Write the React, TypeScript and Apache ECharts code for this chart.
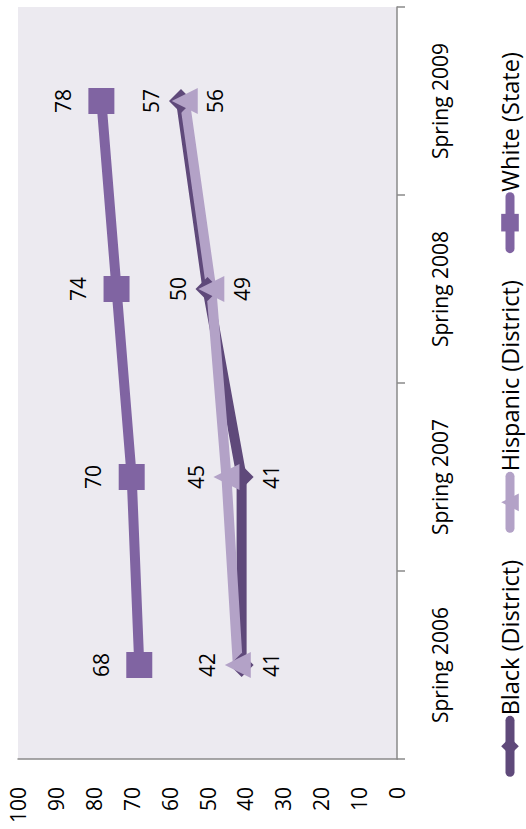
import React, { useEffect, useRef } from "react";
import * as echarts from "echarts";

const categories = ["Spring 2006", "Spring 2007", "Spring 2008", "Spring 2009"];
const seriesNames = ["Black (District)", "Hispanic (District)", "White (State)"];
const blackDistrict = [41, 41, 50, 57];
const hispanicDistrict = [42, 45, 49, 56];
const whiteState = [68, 70, 74, 78];
const blackLabelPos = ["bottom", "bottom", "top", "top"];
const hispanicLabelPos = ["top", "top", "bottom", "bottom"];
const whiteLabelPos = ["top", "top", "top", "top"];
const valueMin = 0;
const valueMax = 100;
const valueStep = 10;

const FONT = "'Open Sans', sans-serif";
const AXIS_GRAY = "#8a8a8a";

export default function App() {
  const ref = useRef<HTMLDivElement>(null);

  useEffect(() => {
    if (!ref.current) return;
    const chart = echarts.init(ref.current, undefined, { renderer: "svg" });

    const mk = (
      name: string,
      values: number[],
      pos: string[],
      color: string,
      symbol: string,
      size: number,
      distance: number
    ) => ({
      name,
      type: "line",
      color,
      data: values.map((v, i) => ({ value: v, label: { position: pos[i] } })),
      symbol,
      symbolSize: size,
      showSymbol: true,
      lineStyle: { width: 10, color },
      itemStyle: { color },
      label: {
        show: true,
        distance,
        fontSize: 21,
        fontFamily: FONT,
        color: "#000",
      },
      emphasis: { disabled: true },
    });

    chart.setOption({
      animation: false,
      grid: {
        left: 70,
        right: 7,
        top: 18,
        bottom: 129,
        show: true,
        backgroundColor: "#ECEAF0",
        borderWidth: 0,
        containLabel: false,
        outerBoundsMode: "none",
      },
      legend: {
        data: seriesNames,
        top: 498,
        left: "center",
        padding: 0,
        itemWidth: 52,
        itemHeight: 22,
        itemGap: 27,
        textStyle: { fontSize: 23.5, lineHeight: 24, fontFamily: FONT, color: "#000" },
        lineStyle: { width: 9, cap: "round" },
      },
      xAxis: {
        type: "category",
        data: categories,
        boundaryGap: true,
        axisLine: { show: true, lineStyle: { color: AXIS_GRAY, width: 1.5 } },
        axisTick: { show: true, length: 8, alignWithLabel: false, lineStyle: { color: AXIS_GRAY, width: 1.5 } },
        axisLabel: { margin: 32, fontSize: 21, fontFamily: FONT, color: "#000", interval: 0 },
        splitLine: { show: false },
      },
      yAxis: {
        type: "value",
        min: valueMin,
        max: valueMax,
        interval: valueStep,
        axisLine: { show: true, lineStyle: { color: AXIS_GRAY, width: 1.5 } },
        axisTick: { show: false },
        axisLabel: { margin: 28, fontSize: 21, fontFamily: FONT, color: "#000" },
        splitLine: { show: false },
      },
      series: [
        mk(seriesNames[0], blackDistrict, blackLabelPos, "#5F497A", "diamond", 24, 7),
        mk(seriesNames[1], hispanicDistrict, hispanicLabelPos, "#B3A2C7", "triangle", 26, 7),
        mk(seriesNames[2], whiteState, whiteLabelPos, "#8064A2", "rect", 26, 15),
      ],
    });

    return () => chart.dispose();
  }, []);

  return (
    <div
      style={{
        position: "fixed",
        left: 0,
        top: 0,
        width: 526,
        height: 829,
        overflow: "hidden",
        background: "#fff",
      }}
    >
      <div
        ref={ref}
        style={{
          position: "absolute",
          left: 0,
          top: 0,
          width: 829,
          height: 526,
          transformOrigin: "0 0",
          transform: "translate(0px, 829px) rotate(-90deg)",
        }}
      />
    </div>
  );
}
